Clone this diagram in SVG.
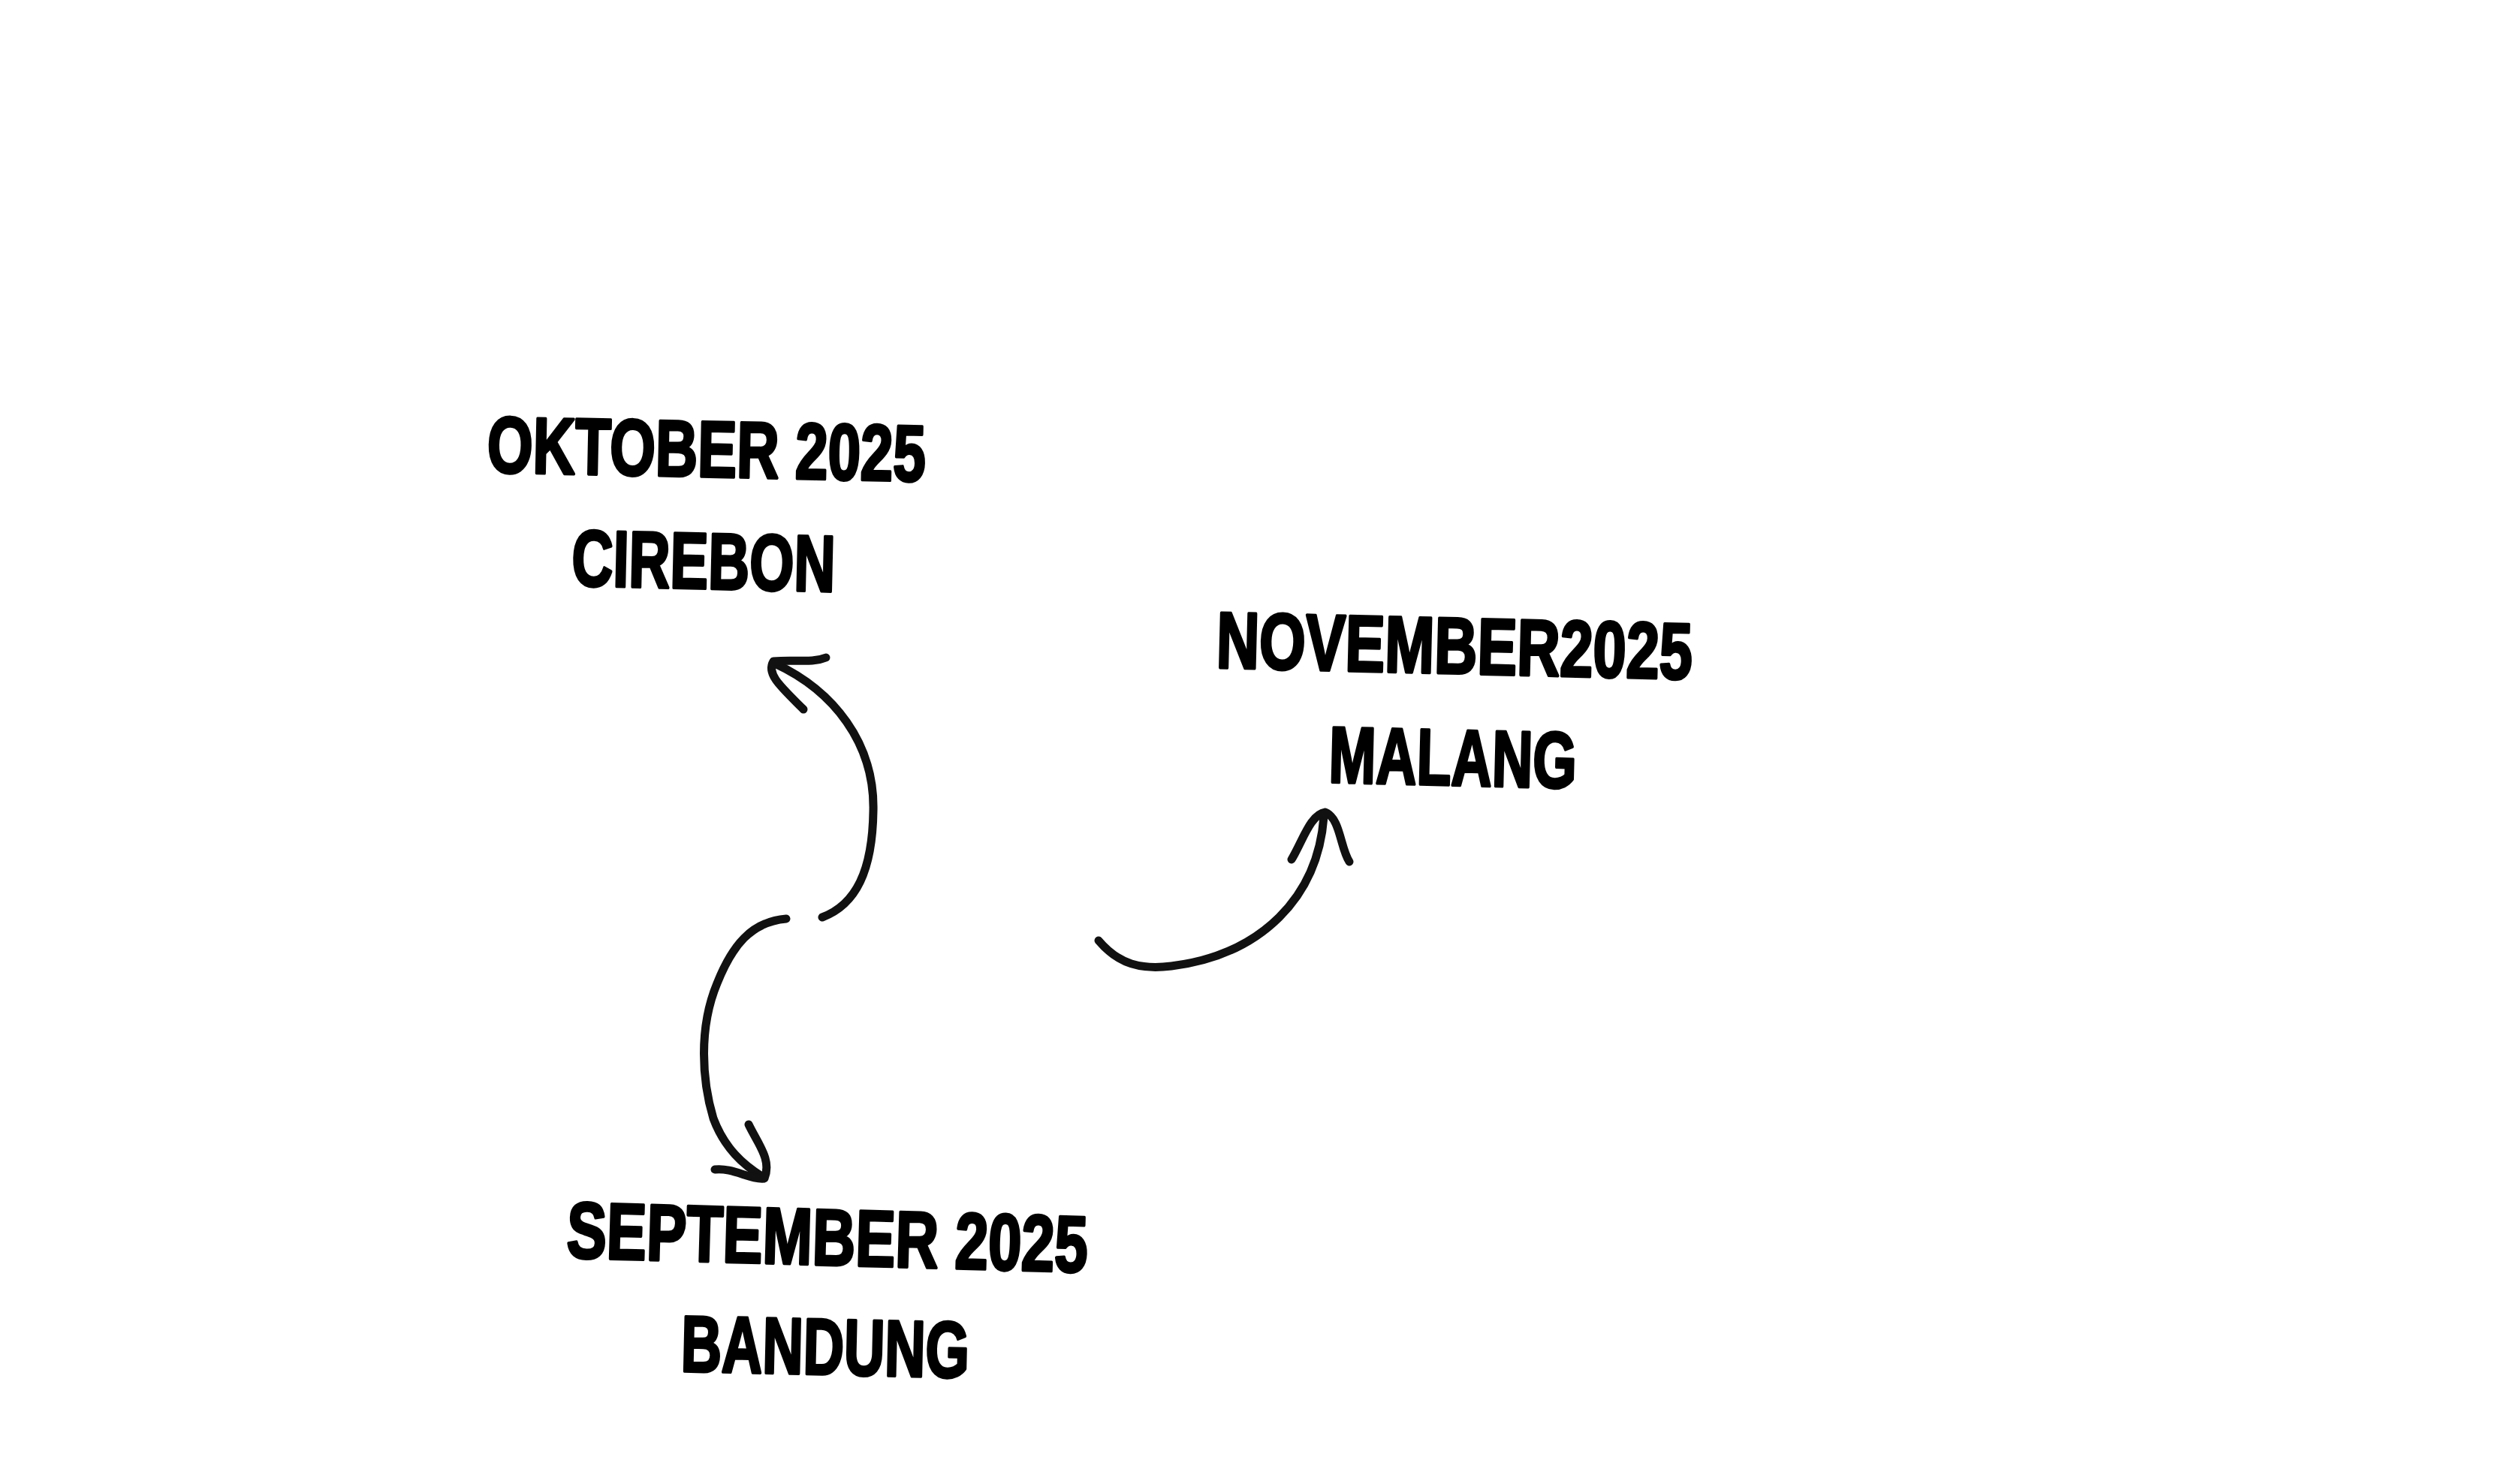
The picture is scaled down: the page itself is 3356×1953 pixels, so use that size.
<svg xmlns="http://www.w3.org/2000/svg" width="3356" height="1953" viewBox="0 0 3356 1953">
<style>
.lbl{font-family:"Liberation Sans","DejaVu Sans",sans-serif;font-weight:bold;font-size:106px;fill:#000;stroke:#000;stroke-width:4;stroke-linejoin:round;text-anchor:middle}
.conn{fill:none;stroke:#111;stroke-width:11;stroke-linecap:round;stroke-linejoin:round}
</style>
<rect width="3356" height="1953" fill="#fff"/>
<g id="node-oktober">
<text class="lbl" x="941" y="635" textLength="584" lengthAdjust="spacingAndGlyphs" transform="rotate(1.2 941 597)">OKTOBER 2025</text>
<text class="lbl" x="937" y="784" textLength="351" lengthAdjust="spacingAndGlyphs" transform="rotate(1.3 937 746)">CIREBON</text>
</g>
<g id="node-september">
<text class="lbl" x="1102" y="1685" textLength="694" lengthAdjust="spacingAndGlyphs" transform="rotate(1.6 1102 1647)">SEPTEMBER 2025</text>
<text class="lbl" x="1099" y="1831" textLength="384" lengthAdjust="spacingAndGlyphs" transform="rotate(1.3 1099 1793)">BANDUNG</text>
</g>
<g id="node-november">
<text class="lbl" x="1937" y="897" textLength="634" lengthAdjust="spacingAndGlyphs" transform="rotate(1.4 1937 859)">NOVEMBER2025</text>
<text class="lbl" x="1935" y="1046" textLength="330" lengthAdjust="spacingAndGlyphs" transform="rotate(1.4 1935 1008)">MALANG</text>
</g>
<g id="connectors">
<path class="conn" d="M1095,1222 C1140,1205 1162,1160 1163,1080 C1165,990 1110,920 1032,884"/>
<path class="conn" d="M1100,876 C1080,884 1060,878 1030,881 C1020,898 1040,915 1070,945"/>
<path class="conn" d="M1047,1224 C1000,1228 975,1260 955,1310 C930,1370 935,1440 950,1490 C965,1530 990,1552 1016,1568"/>
<path class="conn" d="M997,1498 C1010,1525 1028,1545 1018,1570 C1000,1572 975,1555 952,1558"/>
<path class="conn" d="M1463,1253 C1490,1285 1520,1292 1560,1287 C1680,1272 1755,1195 1763,1088"/>
<path class="conn" d="M1720,1145 C1735,1120 1745,1085 1765,1082 C1785,1090 1785,1130 1797,1148"/>
</g>
</svg>
